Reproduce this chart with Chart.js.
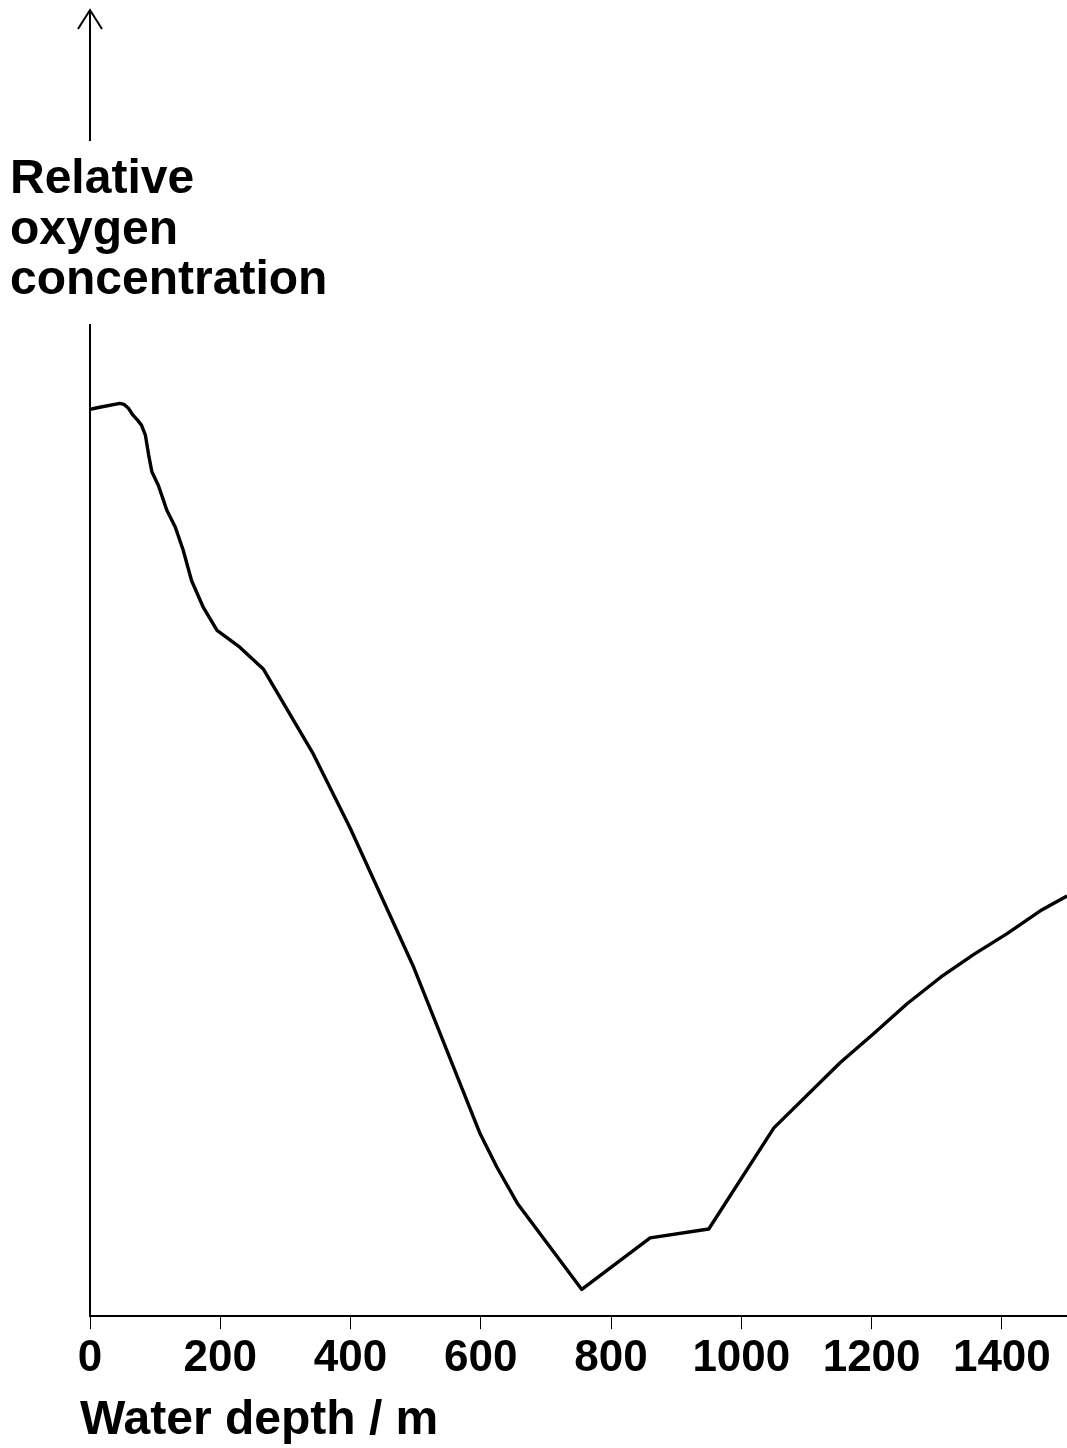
<!DOCTYPE html>
<html>
<head>
<meta charset="utf-8">
<script src="https://cdn.jsdelivr.net/npm/chart.js@4.4.1/dist/chart.umd.min.js"></script>
<style>
  html, body { margin: 0; padding: 0; background: #fff; }
  #wrap { position: relative; width: 1067px; height: 1448px; }
  canvas { position: absolute; left: 0; top: 0; }
  .label {
    position: absolute;
    font-family: "Liberation Sans", Arial, sans-serif;
    font-weight: bold;
    font-size: 48px;
    line-height: 50.5px;
    color: #000;
    white-space: nowrap;
  }
  #yLabel { left: 10px; top: 152px; }
  #xLabel { left: 80px; top: 1393px; line-height: 50px; }
</style>
</head>
<body>
<div id="wrap">
  <canvas id="chart" width="1067" height="1448"></canvas>
  <div id="yLabel" class="label">Relative<br>oxygen<br>concentration</div>
  <div id="xLabel" class="label">Water depth / m</div>
</div>
<script>
// water depth in m
const DEPTH = [0, 15, 46, 52, 59, 66, 73, 79, 85, 90, 95, 105, 118, 131, 143, 156, 174, 195, 230, 266,
  343, 399, 497, 548, 599, 625, 656, 755, 860, 950, 1050, 1152, 1203, 1254, 1306, 1357, 1408, 1459, 1500];
// relative oxygen, 0 = axis, 100 = top of the axis line
const OXYGEN = [91.5, 91.7, 92.1, 92.0, 91.6, 90.9, 90.4, 89.9, 88.9, 86.9, 85.2, 83.8, 81.3, 79.6, 77.3, 74.2, 71.5, 69.2, 67.5, 65.3,
  56.7, 49.3, 35.2, 26.8, 18.4, 15.0, 11.4, 2.7, 7.9, 8.8, 19.0, 25.6, 28.5, 31.5, 34.2, 36.5, 38.6, 40.9, 42.4];
const X_TICKS = [0, 200, 400, 600, 800, 1000, 1200, 1400];

const FONT = "'Liberation Sans', Arial, sans-serif";

const arrowPlugin = {
  id: "yArrow",
  afterDraw(chart) {
    const { ctx, chartArea } = chart;
    const x = chartArea.left;
    ctx.save();
    ctx.strokeStyle = "#000";
    ctx.lineWidth = 2;
    ctx.beginPath();
    ctx.moveTo(x, 141);
    ctx.lineTo(x, 10);
    ctx.moveTo(x - 12, 29);
    ctx.lineTo(x, 10);
    ctx.lineTo(x + 12, 29);
    ctx.stroke();
    ctx.restore();
  },
};

new Chart(document.getElementById("chart"), {
  type: "line",
  data: {
    datasets: [{
      data: DEPTH.map((d, i) => ({ x: d, y: OXYGEN[i] })),
      borderColor: "#000",
      borderWidth: 3.4,
      pointRadius: 0,
      tension: 0,
      borderJoinStyle: "round",
      fill: false,
    }],
  },
  options: {
    responsive: false,
    animation: false,
    devicePixelRatio: 1,
    layout: { padding: { left: 90, right: 0, top: 325, bottom: 60 } },
    plugins: { legend: { display: false }, tooltip: { enabled: false } },
    scales: {
      x: {
        type: "linear",
        min: 0,
        max: 1500,
        afterBuildTicks(scale) {
          scale.ticks = X_TICKS.map((v) => ({ value: v }));
        },
        ticks: {
          color: "#000",
          font: { family: FONT, weight: "bold", size: 44 },
          padding: 3,
          maxRotation: 0,
          autoSkip: false,
          callback: (v) => String(v),
        },
        grid: { drawOnChartArea: false, drawTicks: true, tickLength: 13, color: "#000", lineWidth: 1 },
        border: { display: true, color: "#000", width: 2 },
      },
      y: {
        min: 0,
        max: 100,
        ticks: { display: false },
        grid: { drawOnChartArea: false, drawTicks: false },
        border: { display: true, color: "#000", width: 2 },
      },
    },
  },
  plugins: [arrowPlugin],
});
</script>
</body>
</html>
